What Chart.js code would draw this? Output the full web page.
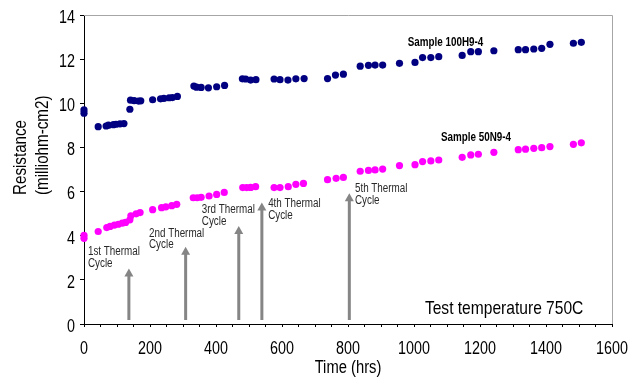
<!DOCTYPE html>
<html>
<head>
<meta charset="utf-8">
<script src="https://cdn.jsdelivr.net/npm/chart.js@4/dist/chart.umd.min.js"></script>
<style>
  body { margin: 0; background: #fff; }
  #wrap { width: 634px; height: 377px; }
</style>
</head>
<body>
<div id="wrap"><canvas id="resChart" width="634" height="377"></canvas></div>
<script>
// data
const hours100 = [0, 0, 43, 67, 74, 89, 97, 109, 121, 139, 141, 152, 165, 172, 208, 232, 242, 258, 268, 283,
  333, 341, 355, 377, 402, 426, 480, 490, 505, 521, 576, 594, 618, 642, 667, 738, 762, 786, 837,
  862, 882, 905, 956, 1003, 1026, 1051, 1075, 1146, 1172, 1195, 1242, 1316, 1338, 1363, 1387, 1412, 1483, 1507];
const res100 = [9.55, 9.7, 8.94, 8.97, 9.01, 9.03, 9.05, 9.07, 9.08, 9.73, 10.14, 10.12, 10.1, 10.11, 10.16, 10.2, 10.22, 10.25, 10.26, 10.31,
  10.78, 10.73, 10.72, 10.7, 10.75, 10.81, 11.11, 11.1, 11.05, 11.07, 11.1, 11.07, 11.05, 11.11, 11.12, 11.12, 11.28, 11.32, 11.68,
  11.72, 11.73, 11.73, 11.81, 11.85, 12.07, 12.07, 12.11, 12.17, 12.34, 12.34, 12.38, 12.43, 12.43, 12.46, 12.49, 12.67, 12.72, 12.76];

const hours50 = [0, 0, 43, 69, 79, 92, 104, 116, 126, 139, 142, 158, 170, 208, 235, 248, 266, 281,
  331, 343, 355, 379, 402, 425, 481, 493, 505, 520, 576, 594, 619, 642, 665, 738, 764, 786, 837,
  862, 882, 905, 956, 1003, 1026, 1051, 1075, 1146, 1172, 1195, 1242, 1316, 1338, 1363, 1387, 1412, 1483, 1507];
const res50 = [3.88, 4.02, 4.19, 4.37, 4.42, 4.48, 4.52, 4.57, 4.6, 4.72, 4.9, 4.99, 5.05, 5.18, 5.27, 5.31, 5.36, 5.42,
  5.72, 5.72, 5.74, 5.8, 5.87, 5.96, 6.18, 6.18, 6.19, 6.22, 6.18, 6.18, 6.22, 6.33, 6.37, 6.54, 6.6, 6.64, 6.92,
  6.96, 6.98, 7.02, 7.18, 7.22, 7.36, 7.39, 7.43, 7.55, 7.66, 7.69, 7.78, 7.9, 7.92, 7.96, 7.99, 8.04, 8.14, 8.21];

// thermal cycles: hour of each cycle and the resistance level where the arrow tip sits
const cycleHours = [136, 308, 469, 539, 804];
const cycleArrowTop = [2.52, 3.5, 4.44, 5.5, 5.92];
const cycleNames = ['1st', '2nd', '3rd', '4th', '5th'];

const xTicks = [0, 200, 400, 600, 800, 1000, 1200, 1400, 1600];
const yTicks = [0, 2, 4, 6, 8, 10, 12, 14];

const FONT = "'Liberation Sans', Arial, sans-serif";
const SQUEEZE = 0.82; // original text is a narrow face

function toPoints(xs, ys) {
  return xs.map((x, i) => ({ x: x, y: ys[i] }));
}

function narrowText(ctx, text, x, y) {
  ctx.save();
  ctx.translate(x, y);
  ctx.scale(SQUEEZE, 1);
  ctx.fillText(text, 0, 0);
  ctx.restore();
}

// -------------------------------------------------------
// text + arrows drawn on top, positioned in data units
// -------------------------------------------------------
const cycleLabelPos = [[12, 3.28], [197, 4.11], [357, 5.17], [558, 5.44], [821, 6.12]];

const annotations = {
  id: 'annotations',
  afterDatasetsDraw(chart) {
    const { ctx, chartArea, scales: { x, y } } = chart;
    ctx.save();

    // gray frame on top and right
    ctx.strokeStyle = '#a6a6a6';
    ctx.lineWidth = 1;
    ctx.beginPath();
    ctx.moveTo(chartArea.left, chartArea.top + 0.5);
    ctx.lineTo(chartArea.right + 0.5, chartArea.top + 0.5);
    ctx.lineTo(chartArea.right + 0.5, chartArea.bottom);
    ctx.stroke();

    // arrows
    ctx.strokeStyle = '#858585';
    ctx.fillStyle = '#858585';
    cycleHours.forEach((h, i) => {
      const px = x.getPixelForValue(h);
      const top = y.getPixelForValue(cycleArrowTop[i]);
      const bottom = y.getPixelForValue(0.18);
      ctx.lineWidth = 3;
      ctx.beginPath();
      ctx.moveTo(px, bottom);
      ctx.lineTo(px, top + 6);
      ctx.stroke();
      ctx.beginPath();
      ctx.moveTo(px, top);
      ctx.lineTo(px - 4.5, top + 8);
      ctx.lineTo(px + 4.5, top + 8);
      ctx.closePath();
      ctx.fill();
    });

    // cycle labels
    ctx.fillStyle = '#2a2a2a';
    ctx.font = '12px ' + FONT;
    ctx.textAlign = 'left';
    ctx.textBaseline = 'middle';
    cycleLabelPos.forEach((p, i) => {
      const px = x.getPixelForValue(p[0]);
      const py = y.getPixelForValue(p[1]);
      narrowText(ctx, cycleNames[i] + ' Thermal', px, py);
      narrowText(ctx, 'Cycle', px, py + 11.6);
    });

    // sample labels
    ctx.fillStyle = '#000';
    ctx.font = 'bold 12px ' + FONT;
    narrowText(ctx, 'Sample 100H9-4', x.getPixelForValue(981), y.getPixelForValue(12.76));
    narrowText(ctx, 'Sample 50N9-4', x.getPixelForValue(1082), y.getPixelForValue(8.46));

    ctx.font = '19px ' + FONT;
    narrowText(ctx, 'Test temperature 750C', x.getPixelForValue(1033), y.getPixelForValue(0.71));

    // tick labels (narrow face, drawn from the scales)
    ctx.font = '17.5px ' + FONT;
    ctx.textAlign = 'center';
    xTicks.forEach(v => narrowText(ctx, String(v), x.getPixelForValue(v), 349.5));
    ctx.textAlign = 'right';
    yTicks.forEach(v => narrowText(ctx, String(v), chartArea.left - 9, y.getPixelForValue(v) + 3));

    // x axis title
    ctx.font = '18px ' + FONT;
    ctx.textAlign = 'center';
    narrowText(ctx, 'Time (hrs)', (chartArea.left + chartArea.right) / 2, 368.5);

    // y axis title, two lines, start-aligned
    ctx.textAlign = 'left';
    ctx.font = '18.5px ' + FONT;
    ctx.translate(0, 195);
    ctx.rotate(-Math.PI / 2);
    narrowText(ctx, 'Resistance', 0, 21);
    narrowText(ctx, '(milliohm-cm2)', 0, 43);

    ctx.restore();
  }
};

const ctx = document.getElementById('resChart').getContext('2d');

new Chart(ctx, {
  type: 'scatter',
  data: {
    datasets: [
      {
        label: 'Sample 100H9-4',
        data: toPoints(hours100, res100),
        backgroundColor: '#000080',
        borderColor: '#000080',
        pointRadius: 3.6,
        pointHoverRadius: 3.6,
        borderWidth: 0,
        clip: false
      },
      {
        label: 'Sample 50N9-4',
        data: toPoints(hours50, res50),
        backgroundColor: '#ff00ff',
        borderColor: '#ff00ff',
        pointRadius: 3.6,
        pointHoverRadius: 3.6,
        borderWidth: 0,
        clip: false
      }
    ]
  },
  options: {
    responsive: false,
    animation: false,
    events: [],
    layout: { padding: { top: 15, right: 22, left: 0, bottom: 0 } },
    plugins: {
      legend: { display: false },
      tooltip: { enabled: false }
    },
    scales: {
      x: {
        type: 'linear',
        min: 0,
        max: 1600,
        afterFit: (scale) => { scale.height = 53; },
        afterBuildTicks: (scale) => {
          const t = [];
          for (let v = 0; v <= 1600; v += 50) t.push({ value: v });
          scale.ticks = t;
        },
        border: { color: '#000', width: 1 },
        grid: { drawOnChartArea: false, drawTicks: true, tickLength: 3, tickColor: '#000' },
        ticks: { display: false, autoSkip: false }
      },
      y: {
        type: 'linear',
        min: 0,
        max: 14,
        afterFit: (scale) => { scale.width = 84; },
        afterBuildTicks: (scale) => { scale.ticks = yTicks.map(v => ({ value: v })); },
        border: { color: '#000', width: 1 },
        grid: { drawOnChartArea: false, drawTicks: true, tickLength: 4, tickColor: '#000' },
        ticks: { display: false }
      }
    }
  },
  plugins: [annotations]
});
</script>
</body>
</html>
